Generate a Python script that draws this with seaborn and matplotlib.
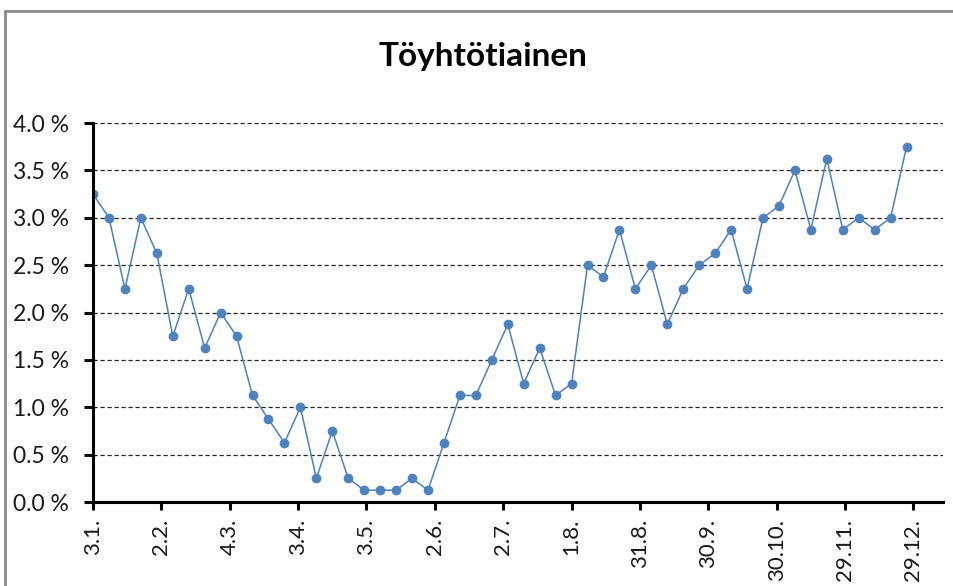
import datetime as dt

import matplotlib
matplotlib.use("Agg")
import matplotlib.pyplot as plt
import matplotlib.dates as mdates
from matplotlib.lines import Line2D
from matplotlib.ticker import FixedLocator, FuncFormatter
import pandas as pd
import seaborn as sns

# Weekly share of observations (%), first week starting 3.1.
title = "Töyhtötiainen"
start_date = "2015-01-03"
n_weeks = 52
share_pct = [
    3.25, 3.0, 2.25, 3.0, 2.625, 1.75, 2.25, 1.625, 2.0, 1.75,
    1.125, 0.875, 0.625, 1.0, 0.25, 0.75, 0.25, 0.125, 0.125, 0.125,
    0.25, 0.125, 0.625, 1.125, 1.125, 1.5, 1.875, 1.25, 1.625, 1.125,
    1.25, 2.5, 2.375, 2.875, 2.25, 2.5, 1.875, 2.25, 2.5, 2.625,
    2.875, 2.25, 3.0, 3.125, 3.5, 2.875, 3.625, 2.875, 3.0, 2.875,
    3.0, 3.75,
]
y_ticks = [0.0, 0.5, 1.0, 1.5, 2.0, 2.5, 3.0, 3.5, 4.0]
tick_step_days = 30
n_xticks = 13

df = pd.DataFrame({
    "week": pd.date_range(start_date, periods=n_weeks, freq="7D"),
    "share": share_pct,
})

sns.set_style("white")
plt.rcParams["font.family"] = ["Lato", "DejaVu Sans"]

fig = plt.figure(figsize=(9.54, 5.86), dpi=100)
ax = fig.add_axes([0.0975, 0.1433, 0.891, 0.6467])

blue = "#4F81BD"
sns.lineplot(data=df, x="week", y="share", ax=ax, color=blue, linewidth=1.1,
             marker="o", markersize=7.0, markeredgewidth=0, markerfacecolor=blue)

t0 = pd.Timestamp(start_date)
xticks = [t0 + pd.Timedelta(days=tick_step_days * i) for i in range(n_xticks)]
ax.set_xlim(mdates.date2num(t0), mdates.date2num(t0 + pd.Timedelta(days=373)))
ax.set_ylim(0, 4.0)

ax.xaxis.set_major_locator(FixedLocator([mdates.date2num(t) for t in xticks]))
ax.xaxis.set_major_formatter(FuncFormatter(
    lambda v, pos: "{}.{}.".format(mdates.num2date(v).day, mdates.num2date(v).month)))
ax.yaxis.set_major_locator(FixedLocator(y_ticks))
ax.yaxis.set_major_formatter(FuncFormatter(lambda v, pos: f"{v:.1f} %"))

ax.grid(axis="y", color="#222222", linestyle=(0, (3.4, 2.2)), linewidth=0.9)
ax.grid(axis="x", visible=False)
ax.set_axisbelow(True)

for side in ("top", "right"):
    ax.spines[side].set_visible(False)
for side in ("left", "bottom"):
    ax.spines[side].set_color("black")
    ax.spines[side].set_linewidth(2.2)

ax.tick_params(axis="y", direction="out", length=6.5, width=2.2, color="black",
               pad=11, labelsize=16.5, labelcolor="#1a1a1a", left=True)
ax.tick_params(axis="x", direction="out", length=6, width=2.2, color="black",
               pad=6, labelsize=16, labelcolor="#1a1a1a", bottom=True,
               labelrotation=90)

ax.set_xlabel("")
ax.set_ylabel("")

fig.text(0.506, 0.903, title, ha="center", va="center", fontsize=24,
         fontweight="bold", color="black")

# Outer chart frame (top and left edges)
frame_kw = dict(color="#8c8c8c", linewidth=2.0, transform=fig.transFigure)
fig.add_artist(Line2D([5 / 954, 1.0], [1 - 11 / 586, 1 - 11 / 586], **frame_kw))
fig.add_artist(Line2D([5 / 954, 5 / 954], [0.0, 1 - 11 / 586], **frame_kw))

fig.savefig("out.png", dpi=100, facecolor="white")
